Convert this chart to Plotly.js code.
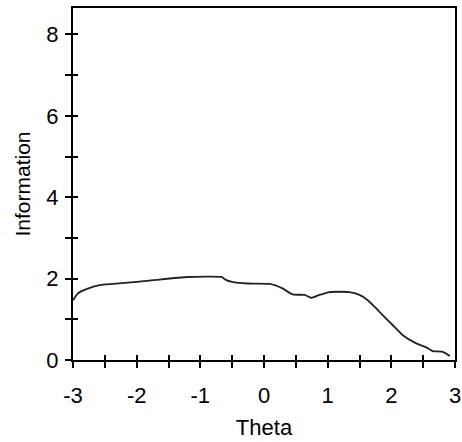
<!DOCTYPE html>
<html>
<head>
<meta charset="utf-8">
<script src="https://cdn.plot.ly/plotly-3.0.1.min.js"></script>
<style>html,body{margin:0;padding:0;background:#fff;}#chart{width:462px;height:442px;}</style>
</head>
<body>
<div id="chart"></div>
<script>
var theta = [-3.0, -2.92, -2.79, -2.58, -2.37, -2.0, -1.69, -1.2, -0.67, -0.6, -0.5, -0.26, 0.09, 0.29, 0.45, 0.64, 0.74, 0.87, 1.03, 1.34, 1.5, 1.63, 1.81, 2.02, 2.18, 2.39, 2.55, 2.65, 2.81, 2.92];
var information = [1.47, 1.64, 1.74, 1.84, 1.87, 1.92, 1.97, 2.04, 2.04, 1.97, 1.92, 1.88, 1.87, 1.76, 1.61, 1.60, 1.53, 1.60, 1.67, 1.67, 1.60, 1.47, 1.19, 0.86, 0.61, 0.41, 0.31, 0.22, 0.20, 0.10];
var xTickVals = [-3, -2, -1, 0, 1, 2, 3];
var xTickText = ['-3', '-2', '-1', '0', '1', '2', '3'];
var yTickVals = [0, 2, 4, 6, 8];
var yTickText = ['0', '2', '4', '6', '8'];
var xTitle = 'Theta';
var yTitle = 'Information';

var font = {family: 'Liberation Sans, Arial, sans-serif', size: 22, color: '#000'};
var trace = {
  x: theta, y: information, type: 'scatter', mode: 'lines',
  line: {color: '#222', width: 1.8, shape: 'spline', smoothing: 0.5},
  hoverinfo: 'skip', showlegend: false
};
var ghost = {x: theta, y: information, xaxis: 'x2', yaxis: 'y2', type: 'scatter', mode: 'none', hoverinfo: 'skip', showlegend: false};
var layout = {
  width: 462, height: 442,
  margin: {l: 73, r: 7, t: 8, b: 82},
  paper_bgcolor: '#fff', plot_bgcolor: '#fff',
  font: font,
  xaxis: {
    range: [-3, 3], tickmode: 'array', tickvals: xTickVals, ticktext: xTickText,
    ticks: 'outside', ticklen: 6, tickwidth: 2, tickcolor: '#000',
    minor: {dtick: 0.5, tick0: 0, ticks: 'outside', ticklen: 6, tickwidth: 2, tickcolor: '#000', showgrid: false},
    showline: true, linecolor: '#000', linewidth: 2, mirror: true,
    showgrid: false, zeroline: false, ticklabelstandoff: 9,
    tickfont: font,
    title: {text: xTitle, font: font, standoff: 12}
  },
  yaxis: {
    range: [0, 8.65], tickmode: 'array', tickvals: yTickVals, ticktext: yTickText,
    ticks: 'outside', ticklen: 6, tickwidth: 2, tickcolor: '#000',
    minor: {dtick: 1, tick0: 0, ticks: 'outside', ticklen: 6, tickwidth: 2, tickcolor: '#000', showgrid: false},
    showline: true, linecolor: '#000', linewidth: 2, mirror: true,
    showgrid: false, zeroline: false, ticklabelstandoff: 2,
    tickfont: font,
    title: {text: yTitle, font: {family: font.family, size: 21, color: '#000'}, standoff: 10}
  },
  xaxis2: {
    range: [-3, 3], overlaying: 'x', anchor: 'y2', side: 'bottom',
    tickvals: [-3,-2.5,-2,-1.5,-1,-0.5,0,0.5,1,1.5,2,2.5,3], showticklabels: false,
    ticks: 'inside', ticklen: 5, tickwidth: 2, tickcolor: '#000',
    showline: false, showgrid: false, zeroline: false
  },
  yaxis2: {
    range: [0, 8.65], overlaying: 'y', anchor: 'x2', side: 'left',
    tickvals: [0,1,2,3,4,5,6,7,8], showticklabels: false,
    ticks: 'inside', ticklen: 5, tickwidth: 2, tickcolor: '#000',
    showline: false, showgrid: false, zeroline: false
  }
};
Plotly.newPlot('chart', [trace, ghost], layout, {staticPlot: true, displayModeBar: false});
</script>
</body>
</html>
